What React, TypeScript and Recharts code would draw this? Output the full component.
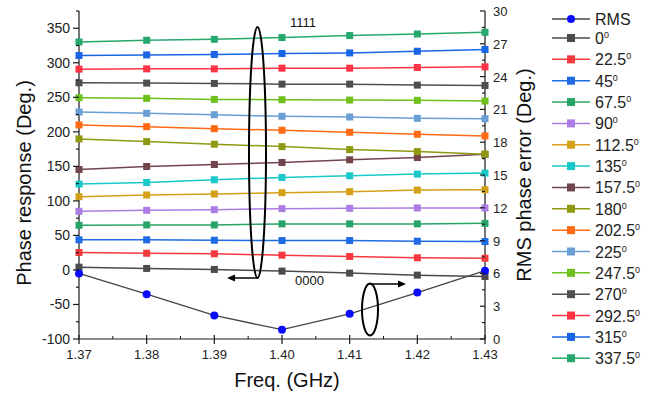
import { LineChart, Line, XAxis, YAxis } from 'recharts'

const freqs = [1.37, 1.38, 1.39, 1.4, 1.41, 1.42, 1.43]

const rms = [6.0, 4.1, 2.15, 0.85, 2.3, 4.25, 6.25]
const s0 = [4, 2.2, 0.7, -1.7, -4.6, -7.5, -9.4]
const s22_5 = [25.3, 24.2, 23.4, 21.4, 19.5, 17.6, 17]
const s45 = [43.6, 43.6, 43, 42.6, 42.6, 41.6, 41.1]
const s67_5 = [64.7, 65.2, 65.2, 66.7, 66.7, 66.7, 67.5]
const s90 = [84.9, 86.3, 87.3, 88.8, 89.2, 89.8, 89.8]
const s112_5 = [106.1, 108.5, 110, 111.9, 113.3, 115.7, 116.2]
const s135 = [124.4, 126.7, 130.6, 133.9, 136.4, 138.8, 140.3]
const s157_5 = [145.5, 149.8, 152.7, 155.6, 159.5, 162.8, 167.4]
const s180 = [189.8, 185.9, 182.1, 178.6, 174.3, 171.4, 167.7]
const s202_5 = [210, 207.5, 204.6, 202.3, 199.4, 196.5, 194.1]
const s225 = [228.7, 226.8, 224.8, 222.5, 221.5, 219.6, 219]
const s247_5 = [249.4, 248.5, 247, 246.5, 246, 245.6, 244.6]
const s270 = [271, 270.6, 270.1, 269.1, 269.1, 267.7, 267.2]
const s292_5 = [290.8, 291.2, 291.2, 292.2, 292.2, 293.2, 294.1]
const s315 = [310.5, 311.4, 312, 313.4, 314.3, 316.7, 319.2]
const s337_5 = [330.1, 332.6, 334, 336.5, 339.4, 341.7, 344.2]

const xTicks = [1.37, 1.375, 1.38, 1.385, 1.39, 1.395, 1.4, 1.405, 1.41, 1.415, 1.42, 1.425, 1.43]
const leftTicks = [-100, -75, -50, -25, 0, 25, 50, 75, 100, 125, 150, 175, 200, 225, 250, 275, 300, 325, 350, 375]
const rightTicks = [0, 1.5, 3, 4.5, 6, 7.5, 9, 10.5, 12, 13.5, 15, 16.5, 18, 19.5, 21, 22.5, 24, 25.5, 27, 28.5, 30]

const series = [
  { key: 's0', label: '0', color: '#4b4b4b', values: s0 },
  { key: 's22_5', label: '22.5', color: '#f5393f', values: s22_5 },
  { key: 's45', label: '45', color: '#1f6be3', values: s45 },
  { key: 's67_5', label: '67.5', color: '#27a566', values: s67_5 },
  { key: 's90', label: '90', color: '#ad7de6', values: s90 },
  { key: 's112_5', label: '112.5', color: '#d4a017', values: s112_5 },
  { key: 's135', label: '135', color: '#19c8c8', values: s135 },
  { key: 's157_5', label: '157.5', color: '#71454b', values: s157_5 },
  { key: 's180', label: '180', color: '#8f9a12', values: s180 },
  { key: 's202_5', label: '202.5', color: '#ff6a12', values: s202_5 },
  { key: 's225', label: '225', color: '#6a9fd6', values: s225 },
  { key: 's247_5', label: '247.5', color: '#6fc01c', values: s247_5 },
  { key: 's270', label: '270', color: '#4f4f4f', values: s270 },
  { key: 's292_5', label: '292.5', color: '#ff3344', values: s292_5 },
  { key: 's315', label: '315', color: '#1a64e6', values: s315 },
  { key: 's337_5', label: '337.5', color: '#27a86c', values: s337_5 },
]

const rows = freqs.map((f, i) => {
  const r: Record<string, number> = { f, rms: rms[i] }
  series.forEach(s => { r[s.key] = s.values[i] })
  return r
})

const FONT = '"Liberation Sans", Arial, sans-serif'
const AXIS = '#1a1a1a'

function XTick(props: any) {
  const { x, y, payload } = props
  const v = payload.value
  const major = Math.round(v * 1000) % 10 === 0
  return (
    <g>
      {major
        ? <line x1={x} x2={x} y1={y - 4} y2={y + 5} stroke={AXIS} strokeWidth={1.2} />
        : <line x1={x} x2={x} y1={y - 3} y2={y} stroke={AXIS} strokeWidth={1} />}
      {major && (
        <text x={x} y={y + 20} textAnchor="middle" fontSize={13} fill="#222" fontFamily={FONT}>
          {v.toFixed(2)}
        </text>
      )}
    </g>
  )
}

function LeftTick(props: any) {
  const { x, y, payload } = props
  const v = payload.value
  const major = v % 50 === 0
  return (
    <g>
      <line x1={x - (major ? 6 : 3)} x2={x} y1={y} y2={y} stroke={AXIS} strokeWidth={1.2} />
      {major && (
        <text x={x - 9} y={y + 5} textAnchor="end" fontSize={14} fill="#222" fontFamily={FONT}>
          {v}
        </text>
      )}
    </g>
  )
}

function RightTick(props: any) {
  const { x, y, payload } = props
  const v = payload.value
  const major = v % 3 === 0
  return (
    <g>
      <line x1={x} x2={x - (major ? 5 : 3)} y1={y} y2={y} stroke={AXIS} strokeWidth={1.2} />
      {major && (
        <text x={x + 8} y={y + 5} textAnchor="start" fontSize={13} fill="#222" fontFamily={FONT}>
          {v}
        </text>
      )}
    </g>
  )
}

function squareDot(color: string) {
  return (p: any) => {
    const k = `${p.dataKey}-${p.index}`
    if (p.cx == null || p.cy == null) return <g key={k} />
    return <rect key={k} x={p.cx - 3.5} y={p.cy - 3.5} width={7} height={7} fill={color} />
  }
}

function circleDot(p: any) {
  const k = `rms-${p.index}`
  if (p.cx == null || p.cy == null) return <g key={k} />
  return <circle key={k} cx={p.cx} cy={p.cy} r={4} fill="#0a0aff" />
}

function Legend() {
  const items = [{ label: 'RMS', color: '#454545', rms: true }, ...series.map(s => ({ label: s.label, color: s.color, rms: false }))]
  return (
    <svg width={110} height={380} style={{ position: 'absolute', left: 549, top: 0 }}>
      {items.map((it, i) => {
        const cy = i === 0 ? 19 : 38 + (i - 1) * 21.35
        return (
          <g key={it.label}>
            <line x1={3} x2={41} y1={cy} y2={cy} stroke={it.color} strokeWidth={1.5} />
            {it.rms
              ? <circle cx={22} cy={cy} r={4} fill="#0a0aff" />
              : <rect x={18} y={cy - 4} width={8} height={8} fill={it.color} />}
            <text x={46} y={cy + 6} fontSize={16} fill="#222" fontFamily={FONT}>
              {it.label}
              {!it.rms && <tspan fontSize={9} dy={-6}>0</tspan>}
            </text>
          </g>
        )
      })}
    </svg>
  )
}

function Notes() {
  return (
    <svg width={659} height={397} style={{ position: 'absolute', left: 0, top: 0, pointerEvents: 'none' }}>
      <ellipse cx={257.5} cy={152.5} rx={8.5} ry={125.5} fill="none" stroke="#000" strokeWidth={2} />
      <line x1={258} x2={233} y1={278} y2={278} stroke="#000" strokeWidth={1.5} />
      <polygon points="227,278 235,274.5 235,281.5" fill="#000" />
      <text x={290} y={27} fontSize={13} fill="#111" fontFamily={FONT}>1111</text>
      <ellipse cx={370} cy={309.5} rx={8} ry={26} fill="none" stroke="#000" strokeWidth={2} />
      <line x1={370} x2={400} y1={284} y2={284} stroke="#000" strokeWidth={1.5} />
      <polygon points="406,284 398,280.5 398,287.5" fill="#000" />
      <text x={295} y={285} fontSize={13} fill="#111" fontFamily={FONT}>0000</text>
    </svg>
  )
}

export default function App() {
  return (
    <div style={{ position: 'absolute', left: 0, top: 0, width: 659, height: 397, background: '#fff', fontFamily: FONT }}>
      <LineChart width={659} height={397} data={rows} margin={{ top: 11, right: 124, bottom: 0, left: 0 }}>
        <XAxis
          dataKey="f"
          type="number"
          domain={[1.37, 1.43]}
          ticks={xTicks}
          interval={0}
          height={58}
          tickSize={0}
          tickMargin={0}
          tickLine={false}
          tick={<XTick />}
          axisLine={{ stroke: AXIS, strokeWidth: 1.2 }}
          label={{ value: 'Freq. (GHz)', position: 'insideBottom', offset: 10, dx: 5, fontSize: 20, fill: '#111', fontFamily: FONT }}
        />
        <YAxis
          yAxisId="left"
          type="number"
          domain={[-100, 375]}
          ticks={leftTicks}
          interval={0}
          width={79}
          tickSize={0}
          tickMargin={0}
          tickLine={false}
          tick={<LeftTick />}
          axisLine={{ stroke: AXIS, strokeWidth: 1.2 }}
          label={{ value: 'Phase response (Deg.)', angle: -90, position: 'insideLeft', offset: 24, dy: 8, fontSize: 20, fill: '#111', fontFamily: FONT, style: { textAnchor: 'middle' } }}
        />
        <YAxis
          yAxisId="right"
          orientation="right"
          type="number"
          domain={[0, 30]}
          ticks={rightTicks}
          interval={0}
          width={50}
          tickSize={0}
          tickMargin={0}
          tickLine={false}
          tick={<RightTick />}
          axisLine={{ stroke: AXIS, strokeWidth: 1.2 }}
          label={{ value: 'RMS phase error (Deg.)', angle: -90, position: 'insideRight', offset: 11, fontSize: 20, fill: '#111', fontFamily: FONT, style: { textAnchor: 'middle' } }}
        />
        {series.map(s => (
          <Line
            key={s.key}
            yAxisId="left"
            dataKey={s.key}
            type="linear"
            stroke={s.color}
            strokeWidth={1.5}
            dot={squareDot(s.color)}
            activeDot={false}
            isAnimationActive={false}
          />
        ))}
        <Line
          yAxisId="right"
          dataKey="rms"
          type="linear"
          stroke="#454545"
          strokeWidth={1.3}
          dot={circleDot}
          activeDot={false}
          isAnimationActive={false}
        />
      </LineChart>
      <Notes />
      <Legend />
    </div>
  )
}
